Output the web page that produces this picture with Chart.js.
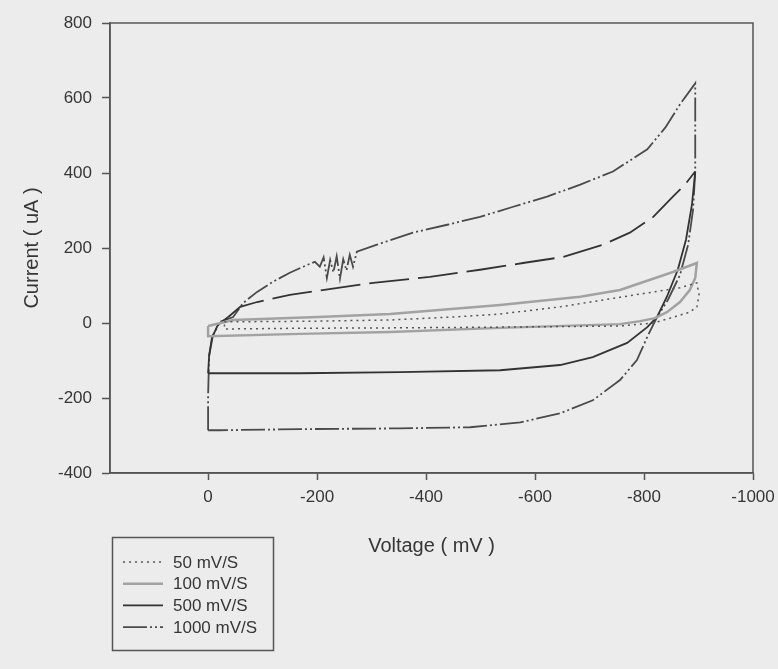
<!DOCTYPE html>
<html>
<head>
<meta charset="utf-8">
<script src="https://cdn.jsdelivr.net/npm/chart.js@4/dist/chart.umd.min.js"></script>
<style>
  html, body { margin: 0; padding: 0; background: #ececec; }
  #cv { display: block; }
</style>
</head>
<body>
<canvas id="cv" width="778" height="669"></canvas>
<script>
// tick values
const xTicks = [0, -200, -400, -600, -800, -1000];
const yTicks = [-400, -200, 0, 200, 400, 600, 800];

const seriesLabels = ['50 mV/S', '100 mV/S', '500 mV/S', '1000 mV/S'];

// 50 mV/S loop (voltage mV, current uA)
const v50 = [-30, -202, -334, -450, -536, -646, -762, -866, -897, -901, -897, -884, -848, -817, -756, -536, -334, -169, -30, -30];
const i50 = [3, 5, 8, 16, 24, 43, 70, 94, 107, 75, 43, 29, 13, 0, -8, -11, -13, -14, -16, 3];

// 100 mV/S loop
const v100 = [0, -46, -202, -334, -536, -683, -756, -853, -897, -894, -884, -866, -842, -820, -793, -756, -536, -334, -169, 0, 0];
const i100 = [-8, 8, 16, 24, 48, 70, 88, 136, 160, 120, 88, 56, 29, 13, 5, -3, -13, -24, -29, -35, -8];

// 500 mV/S loop
const v500 = [0, -2, -7, -18, -37, -59, -90, -150, -202, -303, -407, -499, -578, -651, -725, -774, -817, -853, -875, -894, -888, -877, -862, -842, -824, -806, -769, -706, -646, -536, -352, -169, 0];
const i500 = [-134, -86, -40, -5, 16, 43, 56, 75, 86, 107, 123, 142, 160, 176, 209, 241, 283, 337, 369, 404, 316, 222, 142, 70, 16, -11, -53, -91, -112, -126, -131, -134, -134];

// 1000 mV/S loop
const v1000 = [0, 0, -2, -9, -22, -46, -64, -90, -119, -150, -182, -196, -205, -212, -218, -224, -230, -236, -242, -248, -254, -260, -266, -273, -310, -376, -439, -499, -560, -622, -683, -743, -806, -839, -866, -894, -894, -890, -881, -866, -844, -824, -806, -787, -756, -706, -646, -573, -481, -352, -169, -22, 0];
const i1000 = [-286, -193, -86, -32, 3, 16, 53, 83, 110, 134, 155, 163, 150, 175, 120, 168, 135, 178, 118, 170, 140, 182, 150, 190, 209, 241, 262, 283, 310, 337, 369, 404, 463, 521, 583, 639, 404, 302, 209, 128, 62, 16, -37, -99, -152, -206, -241, -265, -278, -281, -283, -286, -286];

const pts = (vs, is) => vs.map((v, k) => ({ x: v, y: is[k] }));

const FONT = 'Liberation Sans, Arial, Helvetica, sans-serif';
const AXIS = '#555';
const TEXT = '#363636';

// box around the plot + legend below
const framePlugin = {
  id: 'frame',
  afterDraw(chart) {
    const { ctx, chartArea: a } = chart;
    ctx.save();
    ctx.strokeStyle = AXIS;
    ctx.lineWidth = 1.5;
    ctx.strokeRect(a.left, a.top, a.right - a.left, a.bottom - a.top);

    // legend
    ctx.strokeRect(112.5, 537.5, 161, 113);
    ctx.font = '17px ' + FONT;
    ctx.fillStyle = TEXT;
    ctx.textBaseline = 'middle';
    chart.data.datasets.forEach((ds, k) => {
      const y = 562 + k * 21.7;
      ctx.beginPath();
      ctx.strokeStyle = ds.borderColor;
      ctx.lineWidth = ds.borderWidth;
      ctx.setLineDash(ds.borderDash || []);
      ctx.moveTo(123, y);
      ctx.lineTo(163, y);
      ctx.stroke();
      ctx.setLineDash([]);
      ctx.fillText(ds.label, 173, y + 1);
    });
    ctx.restore();
  }
};

new Chart(document.getElementById('cv'), {
  type: 'scatter',
  data: {
    datasets: [
      {
        label: seriesLabels[0],
        data: pts(v50, i50),
        borderColor: '#555',
        borderWidth: 1.5,
        borderDash: [2, 4]
      },
      {
        label: seriesLabels[1],
        data: pts(v100, i100),
        borderColor: '#a2a2a2',
        borderWidth: 2.5
      },
      {
        label: seriesLabels[2],
        data: pts(v500, i500),
        borderColor: '#333',
        borderWidth: 1.8,
        segment: {
          borderDash: c => (c.p0DataIndex >= 4 && c.p0DataIndex < 19) ? [40, 9] : undefined
        }
      },
      {
        label: seriesLabels[3],
        data: pts(v1000, i1000),
        borderColor: '#4a4a4a',
        borderWidth: 1.8,
        borderDash: [24, 3, 2, 3, 2, 3]
      }
    ].map(d => Object.assign({ showLine: true, pointRadius: 0, tension: 0, fill: false }, d))
  },
  options: {
    responsive: false,
    animation: false,
    layout: { padding: { left: 0, right: 25, top: 23, bottom: 106 } },
    plugins: { legend: { display: false }, tooltip: { enabled: false } },
    scales: {
      x: {
        type: 'linear',
        reverse: true,
        min: -1000,
        max: 180,
        afterBuildTicks: s => { s.ticks = xTicks.map(v => ({ value: v })); },
        afterFit: s => { s.height = 90; s.paddingLeft = 0; s.paddingRight = 0; },
        grid: { drawOnChartArea: false, tickLength: 7, tickColor: AXIS, tickWidth: 1.5 },
        border: { color: AXIS, width: 1.5 },
        ticks: { color: TEXT, font: { family: FONT, size: 17 }, padding: 7, maxRotation: 0, callback: v => String(v) },
        title: { display: true, text: 'Voltage ( mV )', color: TEXT, font: { family: FONT, size: 20 }, padding: { top: 4, bottom: 5 } }
      },
      y: {
        min: -400,
        max: 800,
        afterBuildTicks: s => { s.ticks = yTicks.map(v => ({ value: v })); },
        afterFit: s => { s.width = 110; },
        grid: { drawOnChartArea: false, tickLength: 8, tickColor: AXIS, tickWidth: 1.5 },
        border: { color: AXIS, width: 1.5 },
        ticks: { color: TEXT, font: { family: FONT, size: 17 }, padding: 10, callback: v => String(v) },
        title: { display: true, text: 'Current ( uA )', color: TEXT, font: { family: FONT, size: 20 }, padding: { top: 20, bottom: 0 } }
      }
    }
  },
  plugins: [framePlugin]
});
</script>
</body>
</html>
